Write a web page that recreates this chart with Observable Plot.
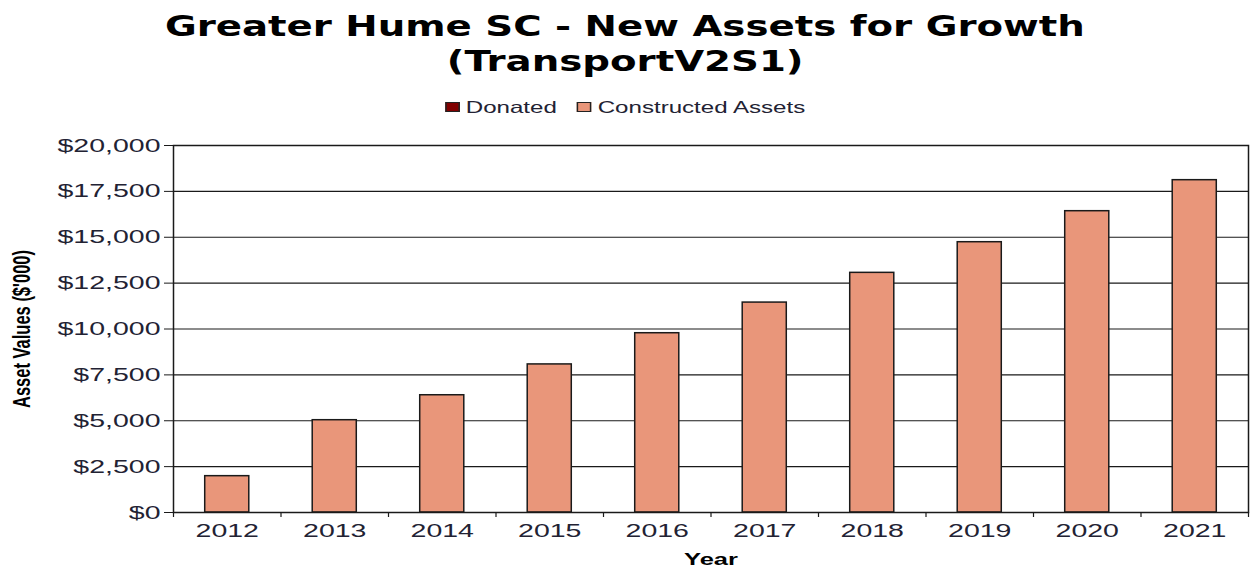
<!DOCTYPE html>
<html>
<head>
<meta charset="utf-8">
<script src="https://cdn.jsdelivr.net/npm/d3@7"></script>
<script src="https://cdn.jsdelivr.net/npm/@observablehq/plot@0.6"></script>
<style>
  html, body { margin: 0; padding: 0; background: #fff; }
  #wrap { width: 1250px; height: 570px; overflow: hidden; position: relative; }
  #title { height: 90px; box-sizing: border-box; padding-top: 9px; text-align: center;
           font-family: "DejaVu Sans", Verdana, sans-serif; font-weight: bold; font-size: 28px;
           line-height: 35px; color: #000; }
  #title span { display: inline-block; white-space: nowrap; transform-origin: center center; }
  #legend { height: 34px; display: flex; justify-content: center; align-items: center;
            font-family: "Liberation Sans", Arial, sans-serif; font-size: 16.5px; color: #222233; }
  #legend .inner { display: flex; align-items: center; transform: scaleX(1.46); transform-origin: center; }
  #legend .item { display: flex; align-items: center; margin: 0 7px; }
  #legend .sw { width: 10px; height: 10px; border: 1px solid #222; box-sizing: border-box; margin-right: 4px; }
  svg { display: block; }
</style>
</head>
<body>
<div id="wrap">
  <div id="title"></div>
  <div id="legend"></div>
  <div id="chart"></div>
</div>
<script>
// ---- data ----
const titleLines = ["Greater Hume SC - New Assets for Growth", "(TransportV2S1)"];
const years = ["2012", "2013", "2014", "2015", "2016", "2017", "2018", "2019", "2020", "2021"];
const donated = [0, 0, 0, 0, 0, 0, 0, 0, 0, 0];
const constructed = [1980, 5030, 6390, 8070, 9770, 11440, 13060, 14730, 16420, 18110];
const seriesNames = ["Donated", "Constructed Assets"];
const seriesColors = ["#800000", "#E9967A"];
const yTicks = [0, 2500, 5000, 7500, 10000, 12500, 15000, 17500, 20000];
const yLabel = "Asset Values ($'000)";
const xLabel = "Year";

// ---- title ----
const titleEl = document.getElementById("title");
const spans = titleLines.map((t, i) => {
  const s = document.createElement("span");
  s.textContent = t;
  titleEl.appendChild(s);
  if (i < titleLines.length - 1) titleEl.appendChild(document.createElement("br"));
  return s;
});
const fitScale = 920 / spans[0].getBoundingClientRect().width;
spans.forEach(s => s.style.transform = `scaleX(${fitScale})`);

// ---- legend ----
const legendEl = document.getElementById("legend");
const inner = document.createElement("div");
inner.className = "inner";
seriesNames.forEach((name, i) => {
  const it = document.createElement("div");
  it.className = "item";
  const sw = document.createElement("div");
  sw.className = "sw";
  sw.style.background = seriesColors[i];
  const lb = document.createElement("span");
  lb.textContent = name;
  it.appendChild(sw); it.appendChild(lb);
  inner.appendChild(it);
});
legendEl.appendChild(inner);

// ---- chart ----
const rows = [];
years.forEach((y, i) => {
  rows.push({year: y, series: seriesNames[0], value: donated[i]});
  rows.push({year: y, series: seriesNames[1], value: constructed[i]});
});

const width = 1250, height = 446;
const marginLeft = 173, marginRight = 2, marginTop = 21, marginBottom = 58;
const step = (width - marginLeft - marginRight) / years.length;
const textColor = "#222233";

const chart = Plot.plot({
  width, height, marginLeft, marginRight, marginTop, marginBottom,
  style: {fontFamily: "'Liberation Sans', Arial, sans-serif", fontSize: "19px", color: textColor, background: "#fff"},
  x: {type: "band", domain: years, paddingInner: 0.59, paddingOuter: 0.295, round: false, label: null},
  y: {domain: [0, 20000], label: null},
  color: {domain: seriesNames, range: seriesColors},
  marks: [
    Plot.gridY(yTicks, {stroke: "#1a1a1a", strokeOpacity: 1, strokeWidth: 1.2}),
    Plot.barY(rows, Plot.stackY({x: "year", y: "value", fill: "series", order: seriesNames, stroke: "#1a1a1a", strokeWidth: 1.5})),
    Plot.frame({stroke: "#1a1a1a", strokeWidth: 1.5}),
    Plot.axisY({ticks: yTicks, tickFormat: d3.format("$,.0f"), tickSize: 9, tickPadding: 4, label: null, stroke: "#1a1a1a", fill: textColor, fontSize: 19}),
    Plot.axisX({tickSize: 0, tickPadding: 11, label: null, fill: textColor, fontSize: 19}),
    Plot.axisX({tickSize: 5, tickFormat: () => "", label: null, dx: -step / 2, stroke: "#1a1a1a", strokeWidth: 1.2}),
    Plot.axisX({ticks: [years[years.length - 1]], tickSize: 5, tickFormat: () => "", label: null, dx: step / 2, stroke: "#1a1a1a", strokeWidth: 1.2}),
    Plot.text([xLabel], {frameAnchor: "bottom", dy: 47, lineAnchor: "middle", textAnchor: "middle", fontWeight: "bold", fontSize: 17, fill: "#000"}),
    Plot.text([yLabel], {frameAnchor: "left", dx: -151, rotate: -90, lineAnchor: "middle", textAnchor: "middle", fontWeight: "bold", fontSize: 16.5, fill: "#000"})
  ]
});

// Stretch text horizontally to match the wide look of the reference
d3.select(chart).selectAll("text").each(function() {
  const t = d3.select(this);
  const tr = t.attr("transform") || "";
  const rotated = /rotate/.test(tr);
  t.attr("transform", `${tr} ${rotated ? "scale(1,1.45)" : "scale(1.5,1)"}`);
});

document.getElementById("chart").appendChild(chart);
</script>
</body>
</html>
